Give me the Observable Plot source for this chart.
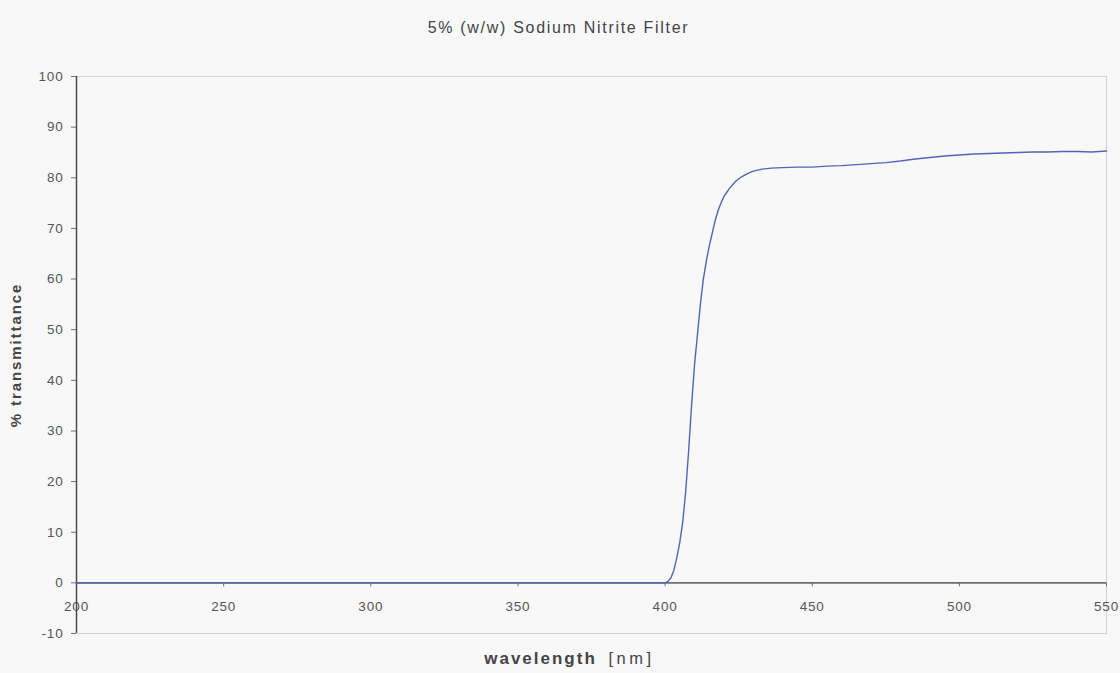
<!DOCTYPE html>
<html>
<head>
<meta charset="utf-8">
<script src="https://cdn.jsdelivr.net/npm/d3@7"></script>
<script src="https://cdn.jsdelivr.net/npm/@observablehq/plot@0.6"></script>
<style>
  html, body { margin: 0; padding: 0; background: #f8f8f8; }
  #chart { width: 1120px; height: 673px; }
</style>
</head>
<body>
<div id="chart"></div>
<script>
// Chart text
const titleText = "5% (w/w) Sodium Nitrite Filter";
const yLabel = "% transmittance";
const xLabelMain = "wavelength";
const xLabelUnit = "[nm]";

// Axes
const xDomain = [200, 550];
const yDomain = [-10, 100];
const xTicks = [200, 250, 300, 350, 400, 450, 500, 550];
const yTicks = [-10, 0, 10, 20, 30, 40, 50, 60, 70, 80, 90, 100];

// Series: wavelength (nm) and % transmittance
const wavelength = [200, 250, 300, 350, 400, 401, 402, 403, 404, 405, 406, 407, 408, 409, 410,
  411, 412, 413, 414, 415, 416, 417, 418, 419, 420, 422, 424, 426, 428, 430, 433, 436, 440,
  445, 450, 455, 460, 465, 470, 475, 480, 485, 490, 495, 500, 505, 510, 515, 520, 525, 530,
  535, 540, 545, 550];
const transmittance = [0, 0, 0, 0, 0, 0.3, 1, 2.5, 5, 8, 12, 18, 26, 35, 43,
  49, 55, 60, 63.5, 66.5, 69, 71.5, 73.5, 75, 76.3, 78, 79.3, 80.2, 80.8, 81.3, 81.7, 81.9, 82.0,
  82.1, 82.1, 82.3, 82.4, 82.6, 82.8, 83.0, 83.3, 83.7, 84.0, 84.3, 84.5, 84.7, 84.8, 84.9, 85.0, 85.1, 85.1,
  85.2, 85.2, 85.1, 85.3];

const data = wavelength.map((w, i) => ({w, t: transmittance[i]}));

const chart = Plot.plot({
  width: 1120,
  height: 673,
  marginLeft: 76,
  marginRight: 14,
  marginTop: 76,
  marginBottom: 40,
  x: {domain: xDomain, axis: null},
  y: {domain: yDomain, axis: null},
  style: {background: "#f8f8f8", fontFamily: "'Liberation Sans', Arial, sans-serif", overflow: "visible"},
  marks: [
    Plot.frame({stroke: "#d2d2d2"}),
    Plot.ruleY([0], {stroke: "#6e6e6e", strokeWidth: 1.6}),
    Plot.ruleX(xTicks, {x: d => d, y1: 0, y2: 0, insetTop: 0, insetBottom: -4, stroke: "#6e6e6e"}),
    Plot.text(xTicks, {x: d => d, y: 0, dy: 24, text: d => String(d), fontSize: 13.5, fill: "#555"}),
    Plot.ruleY(yTicks, {y: d => d, x1: xDomain[0], x2: xDomain[0], insetLeft: -5, insetRight: 0, stroke: "#6e6e6e"}),
    Plot.text(yTicks, {frameAnchor: "left", y: d => d, dx: -13, textAnchor: "end", text: d => String(d), fontSize: 13.5, fill: "#555"}),
    Plot.ruleX([xDomain[0]], {stroke: "#4a4a4a", strokeWidth: 1.5}),
    Plot.line(data, {x: "w", y: "t", stroke: "#5364b8", strokeWidth: 1.4}),
    Plot.text([titleText], {frameAnchor: "top", dy: -55, dx: -33, text: d => d, fontSize: 16, fill: "#444"}),
    Plot.text([yLabel], {frameAnchor: "left", textAnchor: "middle", dx: -60, rotate: -90, text: d => d, fontSize: 15, fontWeight: "bold", fill: "#444"}),
    Plot.text([xLabelMain], {frameAnchor: "bottom", dy: 30, dx: -51, text: d => d, fontSize: 17, fontWeight: "bold", fill: "#444"}),
    Plot.text([xLabelUnit], {frameAnchor: "bottom", dy: 30, dx: 40, text: d => d, fontSize: 16.5, fill: "#444"})
  ]
});

document.getElementById("chart").appendChild(chart);

const spacing = new Map([
  [titleText, "1.7px"],
  [yLabel, "1.9px"],
  [xLabelMain, "2px"],
  [xLabelUnit, "3.5px"]
]);
d3.select(chart).selectAll("text").each(function () {
  const t = this.textContent;
  if (spacing.has(t)) this.style.letterSpacing = spacing.get(t);
  else if (/^-?\d+$/.test(t)) this.style.letterSpacing = "0.8px";
});
</script>
</body>
</html>
